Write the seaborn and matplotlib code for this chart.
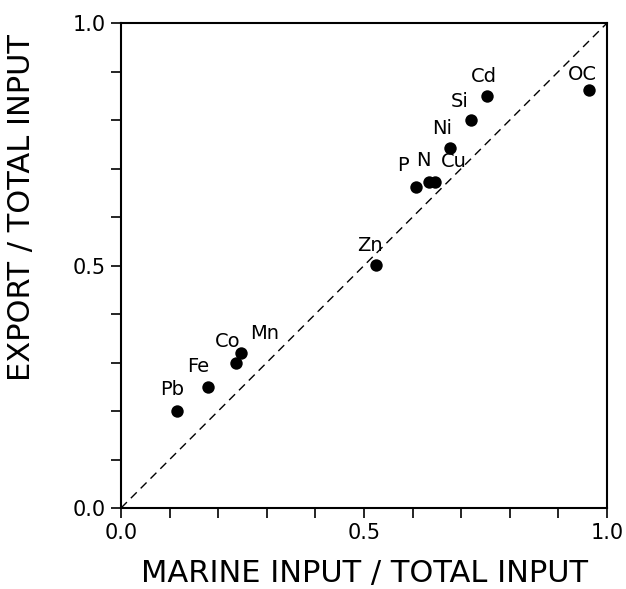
import matplotlib
matplotlib.use('Agg')
import matplotlib.pyplot as plt
import numpy as np
import pandas as pd
import seaborn as sns

# data
elements = ['Pb', 'Fe', 'Co', 'Mn', 'Zn', 'P', 'N', 'Cu', 'Ni', 'Si', 'Cd', 'OC']
marine_frac = [0.115, 0.178, 0.236, 0.247, 0.525, 0.606, 0.634, 0.647, 0.677, 0.720, 0.754, 0.962]
export_frac = [0.200, 0.250, 0.300, 0.319, 0.501, 0.661, 0.673, 0.673, 0.742, 0.800, 0.850, 0.862]

# label offsets in pixels (dx, dy)
label_offsets = {
    'Pb': (-5, 22), 'Fe': (-9, 20), 'Co': (-8, 21), 'Mn': (24, 20),
    'Zn': (-6, 20), 'P': (-13, 22), 'N': (-6, 21), 'Cu': (18, 20),
    'Ni': (-8, 20), 'Si': (-11, 19), 'Cd': (-4, 19), 'OC': (-6, 15),
}

df = pd.DataFrame({'element': elements, 'marine': marine_frac, 'export': export_frac})

sns.set_style('ticks')
plt.rcParams['font.family'] = ['DejaVu Sans']
plt.rcParams['text.color'] = 'black'
plt.rcParams['axes.labelcolor'] = 'black'
plt.rcParams['xtick.color'] = 'black'
plt.rcParams['ytick.color'] = 'black'

fig = plt.figure(figsize=(6.26, 5.89), dpi=100)
ax = fig.add_axes([0.1933, 0.1375, 0.7764, 0.8234])

# 1:1 line
ax.plot([0, 1], [0, 1], color='black', lw=1.0, ls=(0, (6, 4)))

sns.scatterplot(data=df, x='marine', y='export', color='black', s=80,
                edgecolor='black', linewidth=0, ax=ax, zorder=3)

for _, row in df.iterrows():
    dx, dy = label_offsets[row['element']]
    ax.annotate(row['element'], (row['marine'], row['export']),
                xytext=(dx, dy), textcoords='offset pixels',
                ha='center', va='center', fontsize=14, color='black')

ax.set_xlim(0, 1)
ax.set_ylim(0, 1)
ax.set_xticks([0, 0.5, 1.0])
ax.set_yticks([0, 0.5, 1.0])
ax.set_xticks(np.arange(0, 1.01, 0.1), minor=True)
ax.set_yticks(np.arange(0, 1.01, 0.1), minor=True)
ax.set_xticklabels(['0.0', '0.5', '1.0'])
ax.set_yticklabels(['0.0', '0.5', '1.0'])
ax.tick_params(which='both', direction='out', length=7, width=1.2,
               color='black', labelcolor='black')
ax.tick_params(which='major', labelsize=15, pad=4)

for sp in ax.spines.values():
    sp.set_visible(True)
    sp.set_linewidth(1.5)
    sp.set_color('black')

ax.set_xlabel('MARINE INPUT / TOTAL INPUT', fontsize=22, color='black')
ax.set_ylabel('EXPORT / TOTAL INPUT', fontsize=22, color='black')
ax.xaxis.set_label_coords(0.5, -0.105)
ax.yaxis.set_label_coords(-0.175, 0.62)

fig.savefig('out.png', dpi=100)
